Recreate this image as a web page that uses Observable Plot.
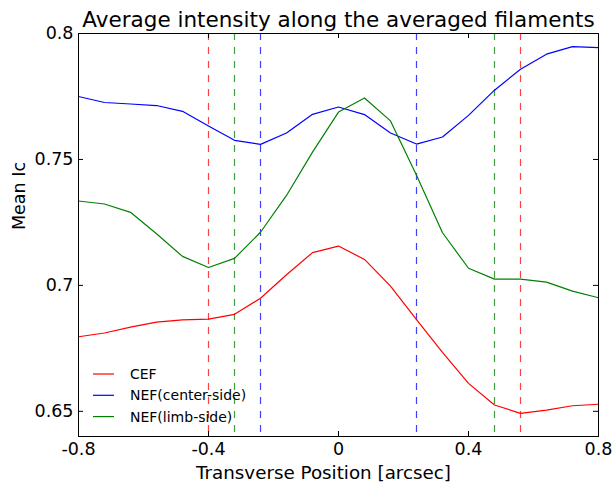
<!DOCTYPE html>
<html>
<head>
<meta charset="utf-8">
<script src="https://cdn.jsdelivr.net/npm/d3@7"></script>
<script src="https://cdn.jsdelivr.net/npm/@observablehq/plot@0.6"></script>
<style>
  html, body { margin: 0; padding: 0; background: #fff; }
  #chart svg { display: block; }
</style>
</head>
<body>
<div id="chart"></div>
<script>
// ---- data ----
const positions = [-0.8, -0.72, -0.64, -0.56, -0.48, -0.4, -0.32, -0.24, -0.16, -0.08, 0,
                   0.08, 0.16, 0.24, 0.32, 0.4, 0.48, 0.56, 0.64, 0.72, 0.8];
const cef = [0.6796, 0.6811, 0.6834, 0.6854, 0.6863, 0.6866, 0.6885, 0.6949, 0.7042, 0.7130, 0.7156,
             0.7103, 0.6997, 0.6864, 0.6734, 0.6611, 0.6525, 0.6492, 0.6505, 0.6522, 0.6528];
const nefCenter = [0.7750, 0.7726, 0.7720, 0.7714, 0.7691, 0.7633, 0.7576, 0.7560, 0.7605, 0.7679, 0.7708,
                   0.7678, 0.7605, 0.7561, 0.7589, 0.7675, 0.7775, 0.7858, 0.7918, 0.7948, 0.7944];
const nefLimb = [0.7335, 0.7323, 0.7290, 0.7205, 0.7115, 0.7071, 0.7107, 0.7211, 0.7357, 0.7529, 0.7688,
                 0.7744, 0.7653, 0.7437, 0.7209, 0.7068, 0.7025, 0.7025, 0.7013, 0.6977, 0.6951];
const seriesNames = ["CEF", "NEF(center-side)", "NEF(limb-side)"];
const seriesColors = ["#ff0000", "#0000ff", "#008000"];
const boundaryNames = ["CEF", "CEF", "NEF(limb-side)", "NEF(limb-side)", "NEF(center-side)", "NEF(center-side)"];
const boundaryPos = [-0.4, 0.56, -0.32, 0.48, -0.24, 0.24];
const xTicks = [-0.8, -0.4, 0, 0.4, 0.8];
const yTicks = [0.65, 0.7, 0.75, 0.8];
const titleText = "Average intensity along the averaged filaments";
const xLabel = "Transverse Position [arcsec]";
const yLabel = "Mean Ic";

// ---- build ----
const seriesValues = [cef, nefCenter, nefLimb];
const rows = [];
seriesNames.forEach((name, i) => positions.forEach((p, j) => rows.push({series: name, x: p, y: seriesValues[i][j]})));
const bounds = boundaryPos.map((p, i) => ({series: boundaryNames[i], x: p}));

const W = 616, H = 482;
const mL = 78, mR = 18, mT = 33, mB = 46;
const plotH = H - mT - mB, plotW = W - mL - mR;
const tick = 5;
const font = "DejaVu Sans";

const chart = Plot.plot({
  width: W, height: H,
  marginLeft: mL, marginRight: mR, marginTop: mT, marginBottom: mB,
  style: {fontFamily: font, background: "#fff", color: "#000"},
  x: {domain: [-0.8, 0.8], ticks: xTicks, tickFormat: d => String(d)},
  y: {domain: [0.64, 0.8], ticks: yTicks, tickFormat: d => String(d)},
  color: {domain: seriesNames, range: seriesColors},
  marks: [
    Plot.ruleX(bounds, {x: "x", stroke: "series", strokeWidth: 1.2, strokeDasharray: "7,7", strokeOpacity: 0.75}),
    Plot.line(rows, {x: "x", y: "y", z: "series", stroke: "series", strokeWidth: 1.2}),
    Plot.frame({stroke: "#000", strokeWidth: 1}),
    Plot.tickX(xTicks, {x: d => d, insetTop: plotH - tick, stroke: "#000"}),
    Plot.tickX(xTicks, {x: d => d, insetBottom: plotH - tick, stroke: "#000"}),
    Plot.tickY(yTicks, {y: d => d, insetRight: plotW - tick, stroke: "#000"}),
    Plot.tickY(yTicks, {y: d => d, insetLeft: plotW - tick, stroke: "#000"}),
    Plot.axisX({ticks: xTicks, tickFormat: d => String(d), tickSize: 0, tickPadding: 6, fontSize: 17.5, label: null}),
    Plot.axisY({ticks: yTicks, tickFormat: d => String(d), tickSize: 0, tickPadding: 5, fontSize: 17.5, label: null}),
    Plot.text([titleText], {text: d => d, frameAnchor: "top", dy: -13, fontSize: 21.5, lineAnchor: "middle"}),
    Plot.text([xLabel], {text: d => d, frameAnchor: "bottom", dx: -15, dy: 37, fontSize: 18.3, lineAnchor: "middle"}),
    Plot.text([yLabel], {text: d => d, frameAnchor: "left", dx: -59, dy: -5, rotate: -90, fontSize: 17.5, lineAnchor: "middle"})
  ]
});

// legend (no frame, lower left inside the axes)
const svg = d3.select(chart);
const lg = svg.append("g").attr("font-family", font).attr("font-size", 14).attr("text-anchor", "start");
seriesNames.forEach((name, i) => {
  const yy = 374 + i * 21.3;
  lg.append("line").attr("x1", 93).attr("x2", 114).attr("y1", yy).attr("y2", yy)
    .attr("stroke", seriesColors[i]).attr("stroke-width", 1.2);
  lg.append("text").attr("x", 130).attr("y", yy).attr("dy", "0.35em").attr("text-anchor", "start").text(name);
});

document.getElementById("chart").appendChild(chart);
</script>
</body>
</html>
